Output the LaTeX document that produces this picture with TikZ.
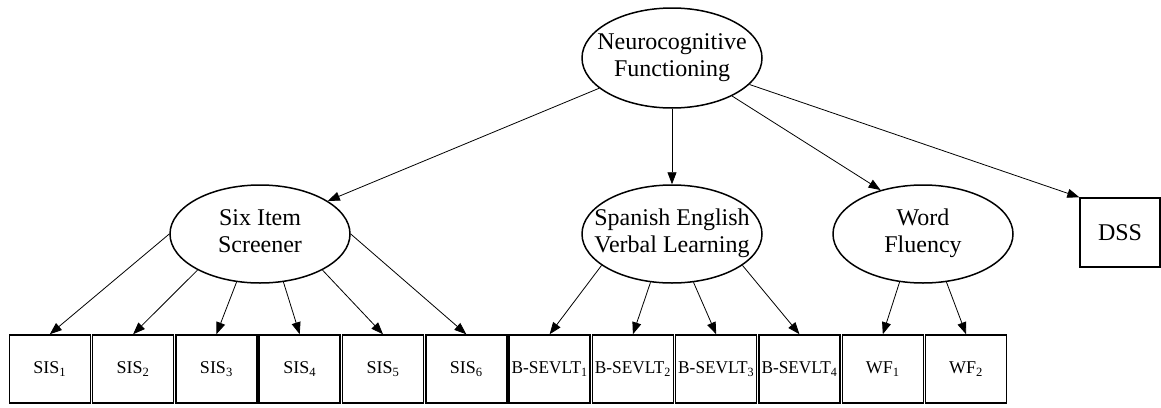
\documentclass[tikz,border=0pt]{standalone}
\usepackage{fontspec}
\setmainfont{Liberation Serif}
\usetikzlibrary{arrows.meta,shapes.geometric}
\newcommand{\latlabel}[1]{\makebox[0pt][c]{\begin{tabular}{@{}c@{}}#1\end{tabular}}}
\begin{document}
\begin{tikzpicture}[x=1pt,y=-1pt,
  lat/.style={ellipse, draw, line width=1.5pt, minimum width=180pt, minimum height=98pt,
    inner sep=0pt, font=\fontsize{24}{27}\selectfont},
  obs/.style={rectangle, draw, line width=1.5pt, minimum width=81pt, minimum height=68pt,
    inner sep=0pt, font=\fontsize{18}{20}\selectfont},
  arr/.style={-{Triangle[length=12pt,width=9pt]}, line width=0.8pt}]
\useasboundingbox (0,0) rectangle (1161,407);
% latent variables
\node[lat, minimum height=100pt] (nf) at (672,58) {\latlabel{Neurocognitive\\Functioning}};
\node[lat] (sis) at (260,234) {\latlabel{Six Item\\Screener}};
\node[lat] (sev) at (672,234) {\latlabel{Spanish English\\Verbal Learning}};
\node[lat] (wf) at (923,234) {\latlabel{Word\\Fluency}};
\node[obs, minimum width=80pt, minimum height=69pt, font=\fontsize{24}{27}\selectfont] (dss) at (1120,232.5) {DSS};
% observed indicators
\foreach \i in {1,...,6}{
  \node[obs] (s\i) at ({49.8+83.3*(\i-1)},369) {SIS\textsubscript{\i}};
}
\foreach \i in {1,...,4}{
  \node[obs] (b\i) at ({49.8+83.3*(\i+5)},369) {\scalebox{0.96}[1]{B-SEVLT\textsubscript{\i}}};
}
\foreach \i in {1,2}{
  \node[obs] (w\i) at ({49.8+83.3*(\i+9)},369) {WF\textsubscript{\i}};
}
% top-level paths
\draw[arr] (nf) -- (sis.26);
\draw[arr] (nf.south) -- (sev.north);
\draw[arr] (nf) -- (wf.134);
\draw[arr] (nf) -- (dss.north west);
% Six Item Screener
\draw[arr] (sis.180) -- (s1.north);
\draw[arr] (sis.210) -- (s2.north);
\draw[arr] (sis.244) -- (s3.north);
\draw[arr] (sis.296) -- (s4.north);
\draw[arr] (sis.330) -- (s5.north);
\draw[arr] (sis.0) -- (s6.north);
% Spanish English Verbal Learning
\draw[arr] (sev.204) -- (b1.north);
\draw[arr] (sev.246) -- (b2.north);
\draw[arr] (sev.294) -- (b3.north);
\draw[arr] (sev.336) -- (b4.north);
% Word Fluency
\draw[arr] (wf.244) -- (w1.north);
\draw[arr] (wf.296) -- (w2.north);
\end{tikzpicture}
\end{document}
